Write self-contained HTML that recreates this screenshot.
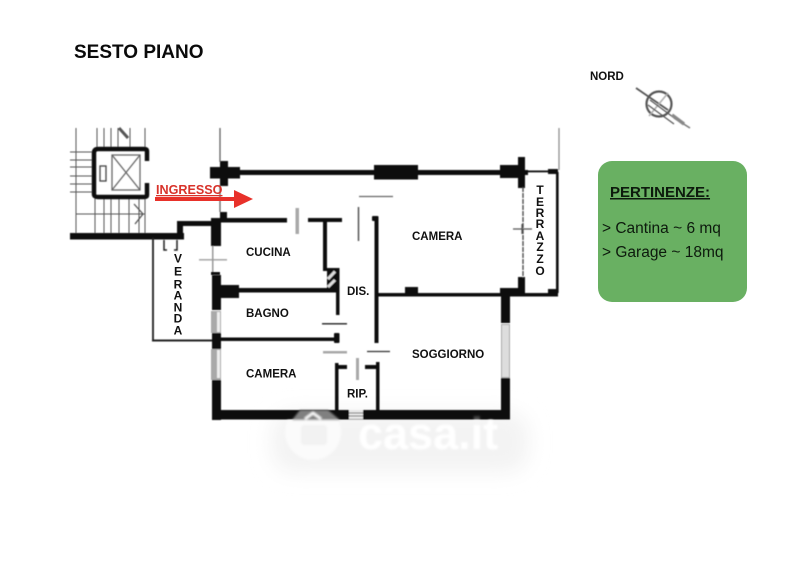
<!DOCTYPE html>
<html><head><meta charset="utf-8"><style>
html,body{margin:0;padding:0;background:#fff}
svg{display:block}
text{font-family:"Liberation Sans",sans-serif}
</style></head><body>
<svg width="800" height="563" viewBox="0 0 800 563" xmlns="http://www.w3.org/2000/svg">
<defs>
<filter id="b" x="-5%" y="-5%" width="110%" height="110%"><feGaussianBlur stdDeviation="0.5"/></filter>
<filter id="w" x="-20%" y="-40%" width="140%" height="180%"><feGaussianBlur stdDeviation="10"/></filter>
<filter id="t" x="-5%" y="-5%" width="110%" height="110%"><feGaussianBlur stdDeviation="1"/></filter>
<clipPath id="above"><rect x="250" y="400" width="300" height="20"/></clipPath>
<clipPath id="below"><rect x="250" y="420" width="300" height="80"/></clipPath>
</defs>
<rect width="800" height="563" fill="#fff"/>
<rect x="272" y="412" width="256" height="60" rx="20" fill="#f3f3f3" filter="url(#w)"/>
<text x="74" y="58" font-size="19" font-weight="700" fill="#0a0a0a">SESTO PIANO</text>

<g filter="url(#b)">
<g stroke="#555" stroke-width="1" fill="none">
<path d="M76 128V236M97 128V148M104 128V148M111 128V148M118 128V148M130 128V148M145 128V148"/>
<path d="M70 152H94M70 160H94M70 167H94M70 176H94M70 184H94M70 192H94"/>
<path d="M76 214H145M95 198V236M104 198V236M111 198V236M119 198V236M129 198V236M139 198V236M145 198V236"/>
<path d="M134 204L143 214L135 224" stroke-width="1.3"/>
</g>
<path d="M147 161V151Q147 149 144 149H98Q94 149 94 153V194Q94 197 98 197H144Q147 197 147 195V183" fill="none" stroke="#111" stroke-width="4.5"/>
<g fill="none" stroke="#666" stroke-width="1.3">
<rect x="112" y="155" width="28" height="35"/>
<path d="M112 155L140 190M140 155L112 190"/>
<rect x="100" y="166" width="6" height="15" stroke="#444"/>
</g>
<path d="M119 128L128 138" stroke="#555" stroke-width="3" fill="none"/>

<g fill="#0b0b0b">
<rect x="70" y="233" width="114" height="6.5"/>
<rect x="177" y="222" width="6" height="17"/>
<rect x="177" y="221" width="36" height="5"/>
<rect x="211" y="218" width="10" height="28"/>
<rect x="220" y="218" width="67" height="4.5"/>
<rect x="220" y="212" width="7" height="7"/>
<rect x="210" y="167" width="30" height="11.5"/>
<rect x="220" y="161" width="8" height="25"/>
<rect x="238" y="170" width="290" height="5"/>
<rect x="374" y="165" width="44" height="14.5"/>
<rect x="500" y="165" width="20" height="13"/>
<rect x="518" y="157" width="7" height="31"/>
<rect x="525" y="170.5" width="30" height="1.8"/>
<rect x="548" y="169" width="10" height="5"/>
<rect x="556" y="172" width="2.6" height="121"/>
<rect x="518" y="277" width="7" height="18"/>
<rect x="378" y="293" width="180" height="3.5"/>
<rect x="405" y="287" width="13" height="9"/>
<rect x="500" y="288" width="18" height="8"/>
<rect x="548" y="289" width="10" height="6"/>
<rect x="501" y="290" width="9" height="33"/>
<rect x="501" y="378" width="9" height="40"/>
<rect x="308" y="218" width="34" height="4"/>
<rect x="323" y="219" width="4" height="52"/>
<rect x="336" y="268" width="3.5" height="47"/>
<rect x="324" y="268" width="15" height="2.5"/>
<rect x="212" y="275" width="9" height="35"/>
<rect x="221" y="285" width="18" height="13"/>
<rect x="238" y="288" width="98" height="4.5"/>
<rect x="212" y="333" width="9" height="16"/>
<rect x="221" y="337.500" width="115" height="3.500"/>
<rect x="334" y="333" width="5.500" height="10" rx="1"/>
<rect x="212" y="380" width="9" height="40"/>
<rect x="212" y="410" width="298" height="9.500"/>
<rect x="335" y="363" width="3.500" height="48"/>
<rect x="335" y="365" width="12" height="4"/>
<rect x="365" y="365" width="12" height="4"/>
<rect x="376" y="362" width="3.500" height="50"/>
<rect x="372" y="216" width="6.500" height="5" rx="1"/>
<rect x="374.500" y="218" width="4" height="125"/>
<rect x="322" y="288" width="16" height="4"/>
</g>
<g fill="none" stroke="#222">
<path d="M220 128V162M220 185V212" stroke="#555" stroke-width="1.2"/>
<path d="M559 128V170" stroke="#888" stroke-width="1.2"/>
<path d="M153 238V340" stroke-width="1.8"/>
<path d="M152 340.500H212" stroke-width="2"/>
<path d="M164 240V250H167M177 240V250H174" stroke-width="1.5"/>
<path d="M523 187V278" stroke="#444" stroke-width="1.3" stroke-dasharray="5 1"/>
<path d="M513 229H532" stroke="#555" stroke-width="1.3"/>
<path d="M522 224V234" stroke="#555" stroke-width="1.3"/>
<path d="M322 323.800H347" stroke-width="1.3"/>
<path d="M367 351.500H390" stroke="#333" stroke-width="1.2"/>
<path d="M359 196.500H393" stroke="#666" stroke-width="1.3"/>
<path d="M358.500 207V241" stroke="#555" stroke-width="1.5"/>
</g>
<rect x="327" y="270.500" width="9" height="18" fill="#111"/>
<path d="M328 279L335 271.500M328 287L335 280" stroke="#ddd" stroke-width="3"/>
<g fill="#a9a9a9">
<rect x="295.500" y="208" width="3.500" height="26"/>
<rect x="356" y="358" width="3" height="22"/>
<rect x="323" y="351" width="24" height="2.500"/>
<rect x="199" y="259" width="28" height="1.600"/>
<rect x="211" y="311" width="10" height="22"/>
<rect x="211" y="349" width="10" height="31"/>
<rect x="501" y="324" width="9" height="54"/>
</g>
<rect x="217" y="312" width="3" height="20" fill="#eee"/>
<rect x="217" y="350" width="3" height="28" fill="#eee"/>
<rect x="502" y="325" width="7" height="52" fill="#ddd"/>
<rect x="212" y="246" width="1.500" height="29" fill="#999"/>
<rect x="349" y="410" width="14" height="9" fill="#e8e8e8"/>
<path d="M349 413H363M349 416H363" stroke="#777" stroke-width="1"/>
</g>
<rect x="211" y="272" width="9" height="3" fill="#111" filter="url(#b)"/>

<g font-size="11.5" font-weight="700" fill="#111">
<text x="246" y="256">CUCINA</text>
<text x="412" y="240">CAMERA</text>
<text x="246" y="317">BAGNO</text>
<text x="347" y="295">DIS.</text>
<text x="246" y="377.500">CAMERA</text>
<text x="412" y="358">SOGGIORNO</text>
<text x="347" y="397.500">RIP.</text>
</g>
<g font-size="12" font-weight="700" fill="#111" text-anchor="middle">
<text x="178" y="262.500">V</text><text x="178" y="275.500">E</text><text x="178" y="288.500">R</text><text x="178" y="299.500">A</text><text x="178" y="311.500">N</text><text x="178" y="322.500">D</text><text x="178" y="334.500">A</text>
<text x="540" y="194">T</text><text x="540" y="206">E</text><text x="540" y="217">R</text><text x="540" y="228">R</text><text x="540" y="240">A</text><text x="540" y="251">Z</text><text x="540" y="263">Z</text><text x="540" y="275">O</text>
</g>

<!-- watermark: grey where it crosses the wall, near-white below it -->
<g filter="url(#t)">
<path d="M292 420L300 410H328L340 420Z" fill="#808080"/>
<path d="M305 419L313 413L321 419" fill="none" stroke="#fff" stroke-width="2.5"/>
<g clip-path="url(#above)">
<text x="358" y="449" font-size="45" font-weight="700" fill="#fff" opacity=".22">casa.it</text>
</g>
<g clip-path="url(#below)">
<circle cx="313" cy="432" r="28" fill="#fbfbfb"/>
<rect x="301" y="425" width="26" height="20" rx="3" fill="#f2f2f2"/>
<text x="358" y="449" font-size="45" font-weight="700" fill="#fff">casa.it</text>
</g>
</g>

<text x="156" y="194" font-size="12.6" font-weight="700" fill="#d8322a" text-decoration="underline">INGRESSO</text>
<path d="M155 197H234V190L253 199L234 208V201H155Z" fill="#e8312a"/>

<text x="590" y="80" font-size="11.5" font-weight="700" fill="#111">NORD</text>
<g fill="none" stroke="#555" filter="url(#b)">
<circle cx="659" cy="104" r="12.5" stroke-width="2.2"/>
<path d="M636 88L668 110" stroke-width="1.8"/>
<path d="M674 118L690 128" stroke-width="1.5" stroke="#777"/>
<path d="M649 116L668 93" stroke="#aaa" stroke-width="1.5"/>
<path d="M650 100L677 120M648 105L674 124" stroke-width="1.2"/>
<path d="M672 115L684 124" stroke-width="3.5" stroke="#888"/>
</g>

<rect x="598" y="161" width="149" height="141" rx="14" fill="#69b062"/>
<text x="610" y="197" font-size="15" font-weight="700" fill="#0d1a0d" text-decoration="underline">PERTINENZE:</text>
<text x="602" y="233" font-size="15.5" fill="#0d1a0d">&gt; Cantina ~ 6 mq</text>
<text x="602" y="257" font-size="15.5" fill="#0d1a0d">&gt; Garage ~ 18mq</text>
</svg>
</body></html>
